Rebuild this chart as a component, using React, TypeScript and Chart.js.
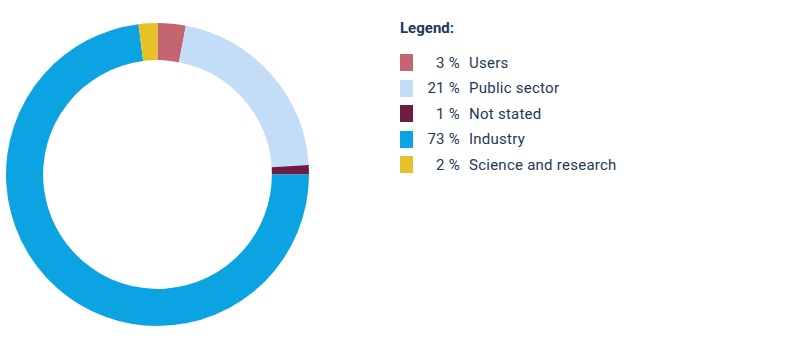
import React, { useEffect, useRef } from "react";
import { Chart, registerables } from "chart.js";

Chart.register(...registerables);

const categories = ["Users", "Public sector", "Not stated", "Industry", "Science and research"];
const values = [3, 21, 1, 73, 2];
const colors = ["#c4666f", "#c2ddf5", "#6e1c42", "#0ca3e2", "#e6c228"];
const legendTitle = "Legend:";

const textColor = "#1d3958";
const fontFamily = "Roboto, 'Noto Sans', sans-serif";

export default function App() {
  const ref = useRef<HTMLCanvasElement | null>(null);
  useEffect(() => {
    if (!ref.current) return;
    const chart = new Chart(ref.current, {
      type: "doughnut",
      data: {
        labels: categories,
        datasets: [
          {
            data: values,
            backgroundColor: colors,
            borderWidth: 0,
          },
        ],
      },
      options: {
        responsive: false,
        animation: false,
        cutout: "75.5%",
        rotation: 0,
        layout: { padding: 0 },
        plugins: {
          legend: { display: false },
          tooltip: { enabled: false },
        },
      },
    });
    return () => chart.destroy();
  }, []);

  return (
    <div
      style={{
        position: "fixed",
        left: 0,
        top: 0,
        width: 801,
        height: 351,
        background: "#fff",
        fontFamily,
        color: textColor,
      }}
    >
      <div style={{ position: "absolute", left: 6, top: 23, width: 303, height: 303 }}>
        <canvas ref={ref} width={303} height={303} style={{ width: 303, height: 303 }} />
      </div>
      <div
        style={{
          position: "absolute",
          left: 400,
          top: 19,
          fontSize: 15,
          lineHeight: "18px",
          fontWeight: 700,
        }}
      >
        {legendTitle}
      </div>
      {categories.map((c, i) => (
        <div
          key={c}
          style={{
            position: "absolute",
            left: 400,
            top: 54 + i * 25.5,
            height: 17,
            display: "flex",
            alignItems: "center",
            fontSize: 15,
            letterSpacing: 0.25,
            whiteSpace: "nowrap",
          }}
        >
          <div style={{ width: 13, height: 17, background: colors[i] }} />
          <div style={{ width: 47, textAlign: "right" }}>{values[i]} %</div>
          <div style={{ marginLeft: 9 }}>{c}</div>
        </div>
      ))}
    </div>
  );
}
